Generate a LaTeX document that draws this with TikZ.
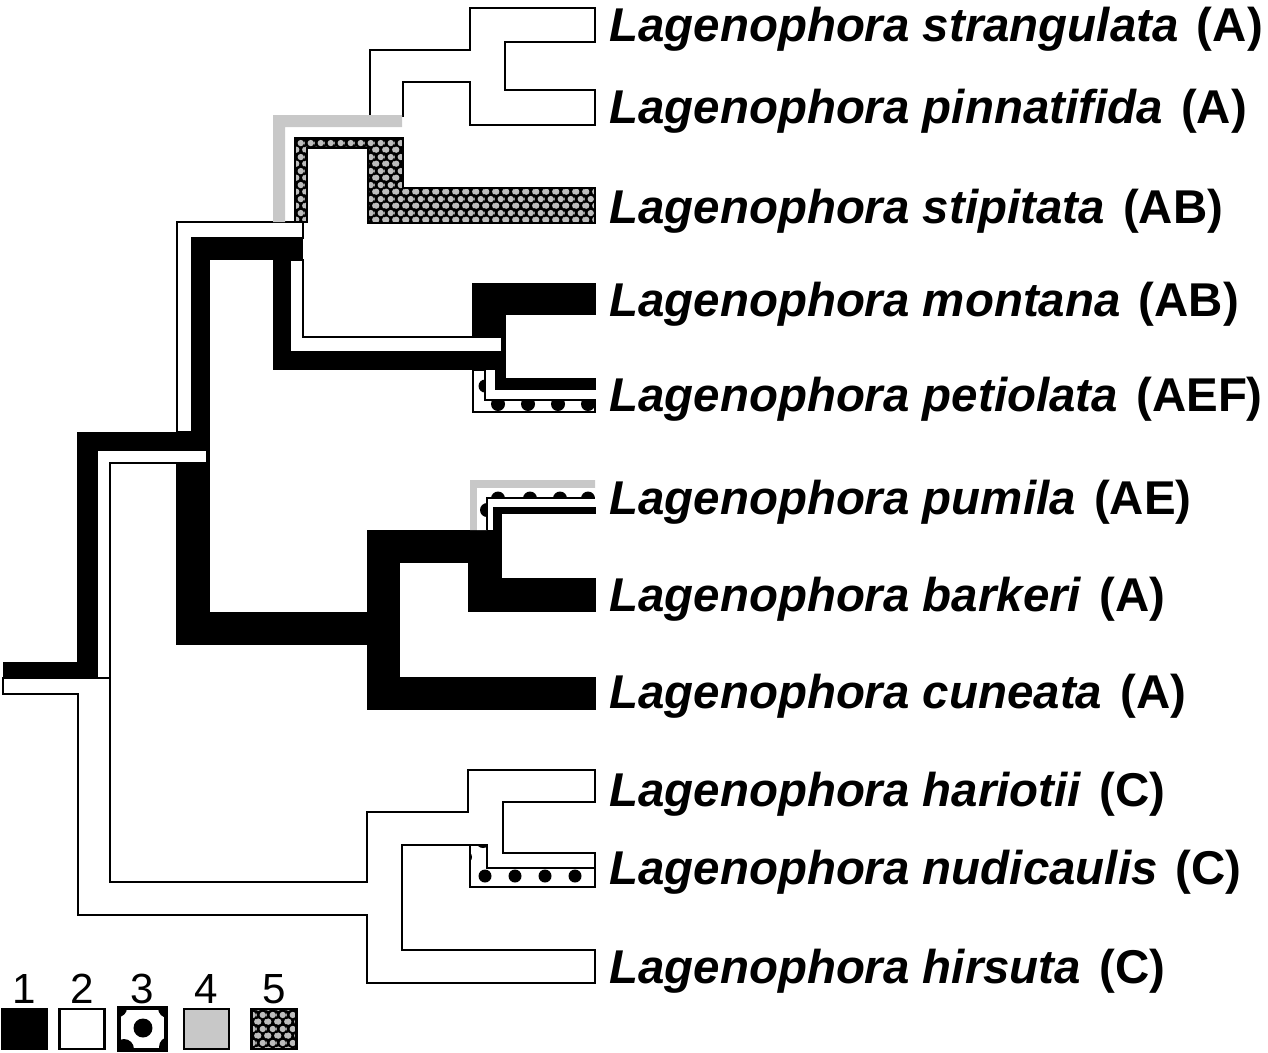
\documentclass[tikz,border=0pt]{standalone}
\usepackage{fontspec}
\setmainfont{Liberation Sans}
\usepackage{tikz}
\usetikzlibrary{patterns, positioning}
\definecolor{stgray}{HTML}{C8C8C8}
\definecolor{hexlight}{HTML}{BDBDBD}

\pgfdeclarepatternformonly{hexdots}{\pgfqpoint{0pt}{0pt}}{\pgfqpoint{5.4pt}{8pt}}{\pgfqpoint{5.4pt}{8pt}}{%
  \pgfpathcircle{\pgfqpoint{1.35pt}{2pt}}{1.9pt}%
  \pgfpathcircle{\pgfqpoint{6.75pt}{2pt}}{1.9pt}%
  \pgfpathcircle{\pgfqpoint{4.05pt}{6pt}}{1.9pt}%
  \pgfpathcircle{\pgfqpoint{-1.35pt}{6pt}}{1.9pt}%
  \pgfusepath{fill}}

\begin{document}
\begin{tikzpicture}[x=0.02cm, y=-0.02cm,
  st1/.style={fill=black},
  st2/.style={fill=white, draw=black, line width=1.5pt, line join=miter},
  st3/.style={fill=white, draw=black, line width=0.6pt},
  st4/.style={fill=stgray},
  st5/.style={preaction={fill=black}, pattern=hexdots, pattern color=hexlight, draw=black, line width=1pt},
  spot/.style={fill=black},
  taxon/.style={font=\fontsize{27}{31}\selectfont\bfseries\itshape, inner sep=0pt, anchor=base west},
  arealabel/.style={font=\fontsize{27}{31}\selectfont\bfseries, inner sep=0pt},
  keybox/.style={draw=black, line width=1.6pt, minimum width=0.9cm, minimum height=0.8cm, inner sep=0pt},
  keynum/.style={font=\fontsize{24}{27}\selectfont, inner sep=0pt}
]
  \useasboundingbox (0,0) rectangle (1268,1052);

  % State 2 under the black bands
  \filldraw[st2] (177,432) -- (177,222) -- (303,222) -- (303,238) -- (192,238) -- (192,432) -- cycle;

  % State 1: black bands
  \fill[st1] (3,662) rectangle (97,678);
  \fill[st1] (77,432) rectangle (97,678);
  \fill[st1] (77,432) rectangle (210,450);
  \fill[st1] (176,450) rectangle (210,645);
  \fill[st1] (192,239) rectangle (210,432);
  \fill[st1] (192,239) rectangle (303,260);
  \fill[st1] (273,239) rectangle (290,370);
  \fill[st1] (273,352) rectangle (506,370);
  \fill[st1] (472,283) rectangle (506,370);
  \fill[st1] (472,283) rectangle (596,315);
  \fill[st1] (495,368) rectangle (506,390);
  \fill[st1] (495,378) rectangle (596,390);
  \fill[st1] (176,612) rectangle (400,645);
  \fill[st1] (367,530) rectangle (400,710);
  \fill[st1] (367,677) rectangle (596,710);
  \fill[st1] (367,530) rectangle (502,563);
  \fill[st1] (468,530) rectangle (502,612);
  \fill[st1] (468,578) rectangle (596,612);
  \fill[st1] (493,507) rectangle (502,530);
  \fill[st1] (493,507) rectangle (596,514);

  % State 2: white bands
  \filldraw[st2] (290,260) -- (303,260) -- (303,337) -- (502,337) -- (502,352) -- (290,352) -- cycle;
  \filldraw[st2] (97,450) -- (207,450) -- (207,463) -- (110,463) -- (110,678) -- (97,678) -- cycle;
  \filldraw[st2] (3,678) -- (110,678) -- (110,882) -- (367,882) -- (367,812) -- (468,812) -- (468,770)
    -- (595,770) -- (595,802) -- (503,802) -- (503,853) -- (595,853) -- (595,868) -- (487,868)
    -- (487,845) -- (402,845) -- (402,950) -- (595,950) -- (595,983) -- (367,983) -- (367,915)
    -- (78,915) -- (78,694) -- (3,694) -- cycle;
  \filldraw[st2] (370,116) -- (370,50) -- (470,50) -- (470,8) -- (595,8) -- (595,42) -- (505,42)
    -- (505,90) -- (595,90) -- (595,125) -- (470,125) -- (470,82) -- (403,82) -- (403,116) -- cycle;

  % State 4: grey bands
  \fill[st4] (273,222) -- (273,115) -- (402,115) -- (402,127) -- (285,127) -- (285,222) -- cycle;
  \fill[st4] (470,530) -- (470,480) -- (595,480) -- (595,488) -- (477,488) -- (477,530) -- cycle;

  % State 5: hexagon band
  \filldraw[st5] (295,222) -- (295,138) -- (403,138) -- (403,188) -- (595,188) -- (595,223)
    -- (368,223) -- (368,148) -- (307,148) -- (307,222) -- cycle;

  % State 3: dotted bands
  \filldraw[st3] (473,370) -- (485,370) -- (485,400) -- (595,400) -- (595,412) -- (473,412) -- cycle;
  \begin{scope}
    \clip (473,370) -- (485,370) -- (485,400) -- (595,400) -- (595,412) -- (473,412) -- cycle;
    \fill[spot] (485,386) circle[radius=0.13cm];
    \foreach \x in {498,528,558,588}
      \fill[spot] (\x,404) circle[radius=0.14cm];
  \end{scope}

  \fill[white] (477,530) -- (477,488) -- (595,488) -- (595,498) -- (487,498) -- (487,530) -- cycle;
  \begin{scope}
    \clip (477,530) -- (477,488) -- (595,488) -- (595,498) -- (487,498) -- (487,530) -- cycle;
    \fill[spot] (487,510) circle[radius=0.14cm];
    \foreach \x in {498,530,560,588}
      \fill[spot] (\x,498.5) circle[radius=0.14cm];
  \end{scope}
  \draw[line width=0.8pt] (487,530) -- (487,498) -- (595,498);

  \filldraw[st3] (470,845) -- (487,845) -- (487,868) -- (595,868) -- (595,887) -- (470,887) -- cycle;
  \begin{scope}
    \clip (470,845) -- (487,845) -- (487,868) -- (595,868) -- (595,887) -- (470,887) -- cycle;
    \fill[spot] (483,841) circle[radius=0.14cm];
    \fill[spot] (466,857) circle[radius=0.12cm];
    \foreach \x in {485,515,545,575}
      \fill[spot] (\x,876) circle[radius=0.13cm];
  \end{scope}
  \draw[line width=1.5pt] (470,845) -- (470,887) -- (595,887) -- (595,868);

  % Taxa and areas
  \foreach \sp/\ar/\yb [count=\i] in {strangulata/A/41, pinnatifida/A/123, stipitata/AB/223,
      montana/AB/316, petiolata/AEF/411, pumila/AE/514, barkeri/A/611, cuneata/A/708,
      hariotii/C/806, nudicaulis/C/884, hirsuta/C/983}
  {
    \node[taxon] (sp\i) at (609,\yb) {Lagenophora \sp};
    \node[arealabel, base right=10pt of sp\i] (ar\i) {(\ar)};
  }

  % Legend
  \node[keybox, fill=black] (key1) at (24.5,1029) {};
  \node[keybox, fill=white] (key2) at (82,1029) {};
  \node[keybox, fill=white] (key3) at (142.5,1029) {};
  \node[keybox, fill=stgray] (key4) at (206.5,1029) {};
  \node[keybox, st5, line width=1.6pt] (key5) at (274,1029) {};
  \begin{scope}
    \clip (key3.south west) rectangle (key3.north east);
    \fill[spot] (143,1028) circle[radius=0.19cm];
    \fill[spot] (118,1008) circle[radius=0.18cm];
    \fill[spot] (168,1008) circle[radius=0.2cm];
    \fill[spot] (124,1049) circle[radius=0.2cm];
    \fill[spot] (169,1047) circle[radius=0.2cm];
  \end{scope}
  \draw[line width=1.6pt] (key3.south west) rectangle (key3.north east);

  \node[keynum, above=2pt of key1] (num1) {1};
  \node[keynum, above=2pt of key2] (num2) {2};
  \node[keynum, above=2pt of key3] (num3) {3};
  \node[keynum, above=2pt of key4] (num4) {4};
  \node[keynum, above=2pt of key5] (num5) {5};
\end{tikzpicture}
\end{document}
